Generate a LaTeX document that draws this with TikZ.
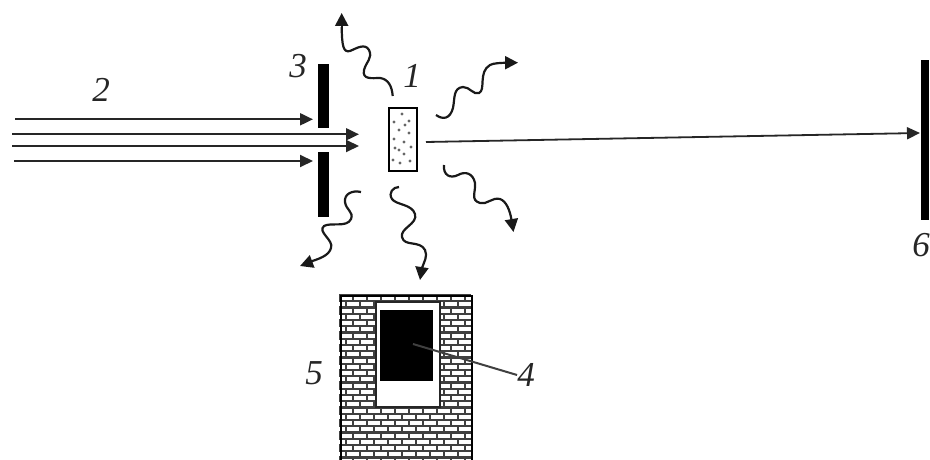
\documentclass[tikz,border=0pt]{standalone}
\usepackage{fontspec}
\setmainfont{Liberation Serif}
\usetikzlibrary{arrows.meta}
\begin{document}
\begin{tikzpicture}[x=1pt,y=-1pt,
  lbl/.style={font=\fontsize{35}{35}\selectfont\itshape,text=black!85,inner sep=0pt},
  barbox/.style={fill=black,draw=none,inner sep=0pt,minimum width=#1},
  ray/.style={line width=2pt,draw=black!85,-{Triangle[length=13pt,width=12pt]}},
  wavy/.style={line width=2.2pt,draw=black!90},
  wavetip/.style={-{Triangle[length=13pt,width=13pt]},line width=2.2pt,draw=black!90},
  mortar/.style={line width=2.3pt,draw=black!75}]
\useasboundingbox (0,0) rectangle (930,460);
\fill[white] (0,0) rectangle (930,460);
% slit
\node[barbox=11pt,minimum height=64pt,anchor=north west] (slitA) at (318,64) {};
\node[barbox=11pt,minimum height=65pt,anchor=north west] (slitB) at (318,151.5) {};
\node[barbox=8pt,minimum height=160pt,anchor=north west] (screen) at (921,60) {};
% beam
\coordinate (b1s) at (15,119.3); \coordinate (b1e) at (313,119.3);
\coordinate (b2s) at (12,134.3); \coordinate (b2e) at (359,134.3);
\coordinate (b3s) at (12,146); \coordinate (b3e) at (359,146);
\coordinate (b4s) at (14,161); \coordinate (b4e) at (313,161);
\draw[ray] (b1s) -- (b1e);
\draw[ray] (b2s) -- (b2e);
\draw[ray] (b3s) -- (b3e);
\draw[ray] (b4s) -- (b4e);
% sample
\node[draw=black,line width=2pt,fill=white,inner sep=0pt,minimum width=28pt,minimum height=62pt,anchor=north west] (sample) at (388,107.5) {};
\foreach \a/\b in {402/114,394/122,409/121,399/130,409/133,394/139,404/142,411/147,399/150,393/160,404/154,410/161,400/163,395/148,405/125}
  \fill[black!60] (\a,\b) circle (1.7pt);
% main ray
\coordinate (sampleout) at (426,142);
\coordinate (screenhit) at (920,133);
\draw[line width=1.8pt,draw=black!85,-{Triangle[length=13pt,width=12pt]}] (sampleout) -- (screenhit);
% wavy rays
\draw[wavy] (392.7,96) .. controls (392,86) and (388,79) .. (380,78) .. controls (372,78) and (362,80) .. (364,70) .. controls (366,62) and (373,58) .. (369,50) .. controls (365,43) and (357,48) .. (350,51) .. controls (343,53) and (342,45) .. (341.7,27);
\coordinate (w1a) at (341.7,27); \coordinate (w1b) at (341.7,13);
\draw[wavetip] (w1a) -- (w1b);
\draw[wavy] (436,115) .. controls (443,120) and (450,119) .. (453,108) .. controls (455,98) and (453,88) .. (463,87) .. controls (470,87) and (473,95) .. (479,93) .. controls (486,90) and (478,72) .. (490,65) .. controls (494,63) and (500,63) .. (507,62.7);
\coordinate (w2a) at (505,62.7); \coordinate (w2b) at (518,62.7);
\draw[wavetip] (w2a) -- (w2b);
\draw[wavy] (444,165) .. controls (443,175) and (450,179) .. (458,175) .. controls (465,171) and (473,173) .. (475,183) .. controls (476,192) and (470,200) .. (480,203) .. controls (487,205) and (492,197) .. (500,199) .. controls (506,201) and (510,210) .. (511.5,220);
\coordinate (w3a) at (511.5,220); \coordinate (w3b) at (513.5,232);
\draw[wavetip] (w3a) -- (w3b);
\draw[wavy] (399,187) .. controls (393,187) and (388,193) .. (392,199) .. controls (396,205) and (412,204) .. (415,214) .. controls (418,224) and (400,228) .. (402,237) .. controls (404,247) and (420,240) .. (425,250) .. controls (428,256) and (424,262) .. (422,268);
\coordinate (w4a) at (422,267); \coordinate (w4b) at (420,280);
\draw[wavetip] (w4a) -- (w4b);
\draw[wavy] (361,192) .. controls (352,190) and (344,194) .. (345,202) .. controls (346,210) and (354,212) .. (351,219) .. controls (347,228) and (331,222) .. (324,226) .. controls (317,232) and (334,240) .. (331,248) .. controls (329,256) and (318,259) .. (311,261.5);
\coordinate (w5a) at (312,261.5); \coordinate (w5b) at (300,266);
\draw[wavetip] (w5a) -- (w5b);
% wall
\begin{scope}
\clip (339,294.5) rectangle (471,460);
\fill[white] (339,294.5) rectangle (471,460);
\foreach \r in {0,...,26} {
  \pgfmathsetmacro{\yy}{295+6.25*\r}
  \draw[mortar] (339,\yy) -- (471,\yy);
  \pgfmathsetmacro{\off}{mod(\r,2)*7}
  \foreach \k in {0,...,9} {
    \pgfmathsetmacro{\xx}{339+\off+14*\k}
    \draw[mortar] (\xx,\yy) -- (\xx,\yy+6.25);
  }
}
\end{scope}
\node[draw=black,line width=2.5pt,inner sep=0pt,minimum width=131pt,minimum height=170pt,anchor=north west] (wall) at (339.5,294.5) {};
\node[draw=black!85,line width=2.2pt,fill=white,inner sep=0pt,minimum width=64pt,minimum height=105pt,anchor=north west] (window) at (375,301) {};
\node[barbox=53pt,minimum height=71pt,anchor=north west] (det) at (380,310) {};
\node[lbl] (n2) at (101,90) {2};
\node[lbl] (n3) at (298,66) {3};
\node[lbl] (n1) at (412,76) {1};
\node[lbl] (n6) at (921,245) {6};
\node[lbl] (n5) at (314,373) {5};
\node[lbl] (n4) at (526,375) {4};
\coordinate (detc) at (413,344);
\draw[line width=2pt,draw=black!75] (detc) -- (n4.west);
\end{tikzpicture}
\end{document}
